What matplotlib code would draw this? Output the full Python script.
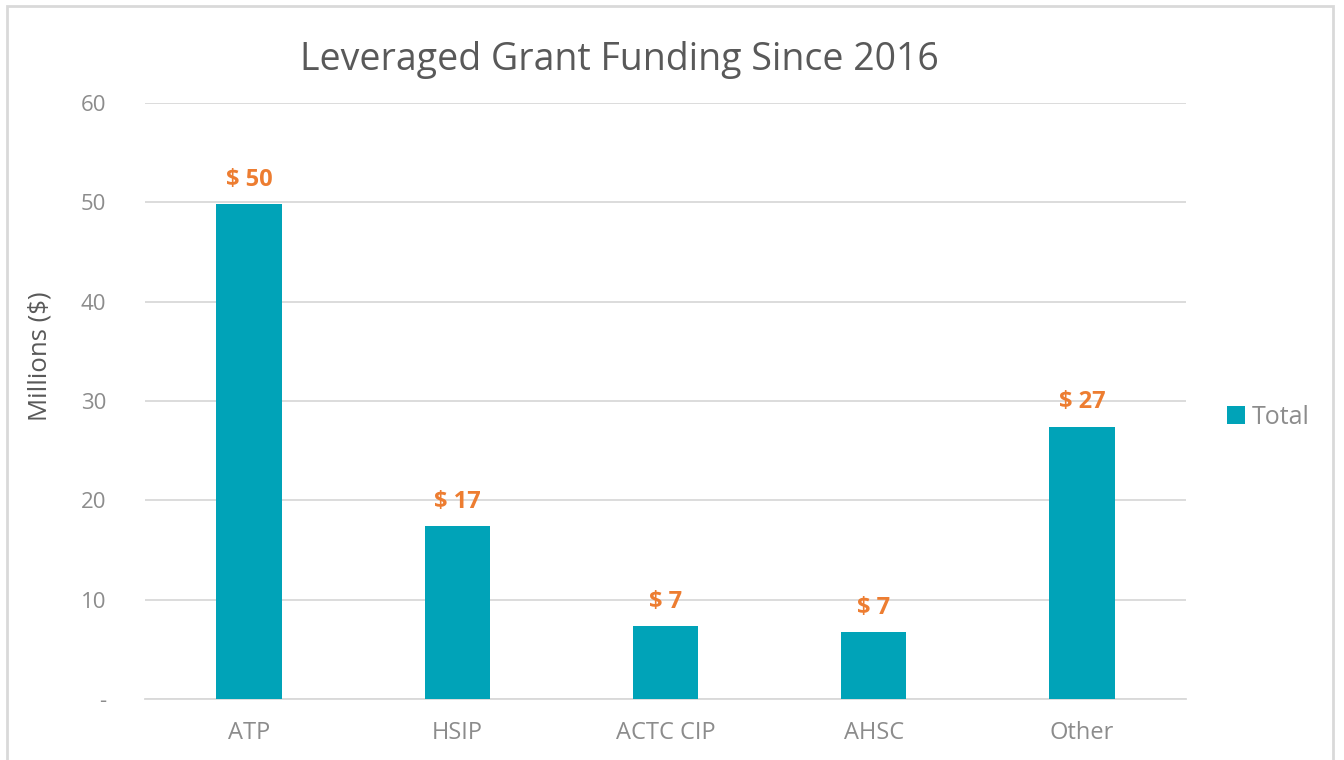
import matplotlib
matplotlib.use("Agg")
import matplotlib.pyplot as plt
from matplotlib.patches import Rectangle

categories = ["ATP", "HSIP", "ACTC CIP", "AHSC", "Other"]
values = [49.8, 17.4, 7.3, 6.7, 27.4]
value_labels = ["$ 50", "$ 17", "$ 7", "$ 7", "$ 27"]
yticks = [0, 10, 20, 30, 40, 50, 60]
ytick_labels = ["-", "10", "20", "30", "40", "50", "60"]
title = "Leveraged Grant Funding Since 2016"
ylabel = "Millions ($)"
series_name = "Total"

BAR = "#00A3B8"
ORANGE = "#ED7D31"
GRID = "#D9D9D9"
TICK = "#8C8C8C"
DARK = "#595959"

plt.rcParams['font.family'] = ['Open Sans', 'DejaVu Sans']

fig = plt.figure(figsize=(13.44, 7.6), dpi=100)
ax = fig.add_axes([145/1344, 1-699/760, (1186-145)/1344, (699-103)/760])

x = list(range(len(categories)))
bars = ax.bar(x, values, width=0.315, color=BAR, zorder=3, label=series_name)
ax.set_xlim(-0.5, len(categories) - 0.5)
ax.set_ylim(0, 60)
ax.set_yticks(yticks)
ax.set_yticklabels(ytick_labels)
ax.set_xticks(x)
ax.set_xticklabels(categories)
ax.tick_params(axis='both', length=0, colors=TICK)
ax.tick_params(axis='y', pad=28, labelsize=16)
ax.tick_params(axis='x', pad=16, labelsize=17)
ax.grid(axis='y', color=GRID, linewidth=1.3, zorder=0)
for s in ['top', 'right', 'left']:
    ax.spines[s].set_visible(False)
ax.spines['bottom'].set_color(GRID)
ax.spines['bottom'].set_linewidth(1.3)

for xi, v, lab in zip(x, values, value_labels):
    ax.annotate(lab, (xi, v), xytext=(0, 9), textcoords='offset points',
                ha='center', va='bottom', color=ORANGE, fontsize=17,
                fontweight='bold')

fig.text(619/1344, 1-60/760, title, ha='center', va='center', fontsize=27,
         color=DARK)
fig.text(40/1344, 1-356/760, ylabel, ha='center', va='center', rotation=90,
         fontsize=18.5, color=DARK)

leg = fig.legend(handles=[bars], labels=[series_name], loc='center left',
                 bbox_to_anchor=(1227/1344, 1-417/760), frameon=False,
                 borderpad=0, borderaxespad=0,
                 handlelength=0.7, handleheight=0.7, handletextpad=0.3,
                 fontsize=18)
for t in leg.get_texts():
    t.set_color(TICK)

fig.patches.append(Rectangle((7/1344, -0.05), (1333-7)/1344, 1.05 - 6/760,
                             transform=fig.transFigure, fill=False,
                             edgecolor=GRID, linewidth=2, zorder=0))

fig.savefig("out.png", dpi=100)
